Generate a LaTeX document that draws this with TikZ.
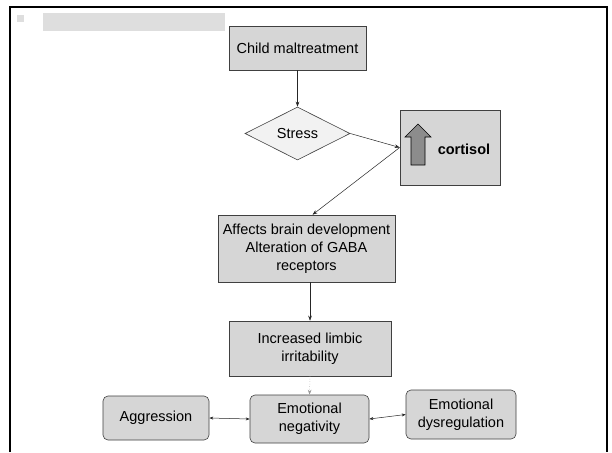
\documentclass[tikz,border=0pt]{standalone}
\usepackage{fontspec}
\setmainfont{Liberation Sans}
\usetikzlibrary{arrows.meta,shapes.geometric}

\begin{document}
\begin{tikzpicture}[x=1pt,y=-1pt,
  every node/.style={font=\fontsize{14.5}{18}\selectfont, inner sep=0pt, align=center},
  box/.style={draw=black!75, line width=0.6pt, fill=black!16},
  rbox/.style={box, rounded corners=5pt},
  link/.style={line width=0.5pt, draw=black!85, -{Stealth[length=5pt,width=3.6pt]}},
  twoway/.style={line width=0.5pt, draw=black!85,
    {Stealth[length=4pt,width=3pt]}-{Stealth[length=4pt,width=3pt]}},
]
\useasboundingbox (0,0) rectangle (612,452);
\fill[white] (0,0) rectangle (612,452);

% page frame
\draw[line width=1.6pt] (10,452) -- (10,7) -- (607,7) -- (607,452);
% faded heading
\fill[black!13] (17,15) rectangle (24,22);
\fill[black!13] (43,13) rectangle (225,31);

% flow boxes
\node[box, minimum width=137pt, minimum height=44pt] (child) at (297.5,48) {Child maltreatment};
\node[diamond, draw=black!75, line width=0.6pt, fill=black!5, aspect=2,
      minimum width=105pt, minimum height=53pt] (stress) at (297.5,133.5) {Stress};
\node[box, minimum width=100pt, minimum height=75pt] (cort) at (450,147.5) {};
\node[font=\fontsize{14.5}{18}\bfseries] (cortlabel) at (464,149) {cortisol};
\node[box, minimum width=177pt, minimum height=67pt] (affects) at (306.5,248.5)
  {Affects brain development\\Alteration of GABA\\receptors};
\node[box, minimum width=162pt, minimum height=55pt] (incr) at (310,348.5)
  {Increased limbic\\irritability};
\node[rbox, minimum width=119pt, minimum height=48pt] (neg) at (309.5,419)
  {Emotional\\negativity};
\node[rbox, minimum width=106pt, minimum height=44pt] (aggr) at (156,418)
  {Aggression};
\node[rbox, minimum width=110pt, minimum height=49pt] (dysreg) at (461,414.5)
  {Emotional\\dysregulation};

% rising-level arrow inside the cortisol box
\draw[line width=0.6pt, fill=black!45]
  (411,165) -- (411,137) -- (405,137) -- (418,124) -- (431,137) -- (425,137) -- (425,165) -- cycle;

% connectors
\draw[link] (child.south) -- (stress.north);
\draw[link] (stress.east) -- (cort.west);
\draw[link] (cort.west) -- ([xshift=6pt]affects.north);
\draw[link] (affects.south -| incr.north) -- (incr.north);
\draw[link, draw=black!40, dotted] (incr.south) -- (neg.north);
\draw[twoway] (aggr.east) -- (neg.west);
\draw[twoway] (neg.east) -- (dysreg.west);
\end{tikzpicture}
\end{document}
